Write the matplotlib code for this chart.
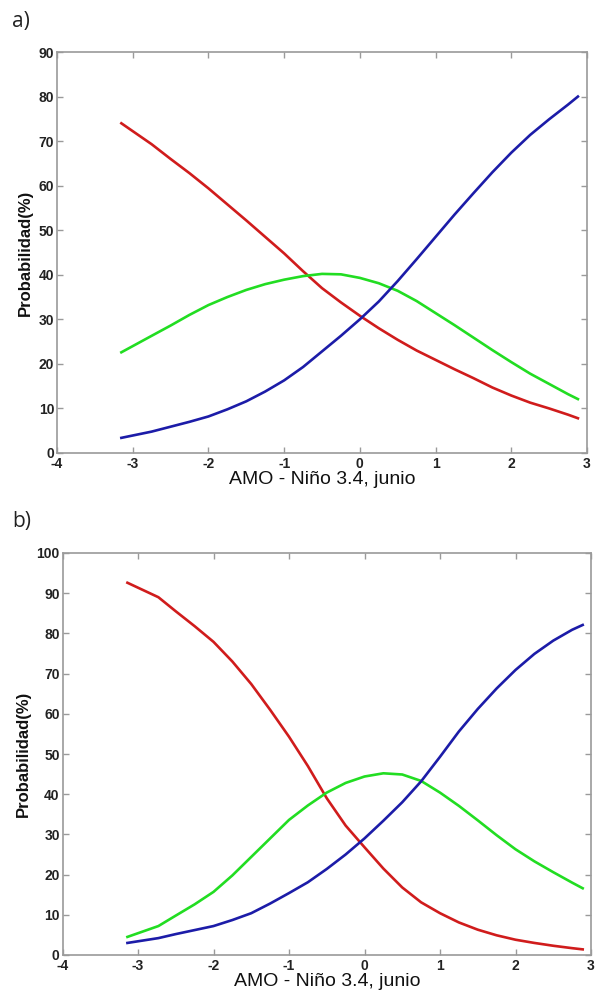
import matplotlib
matplotlib.use("Agg")
import matplotlib.pyplot as plt

# ---- Data (panel a) ----
xa = [-3.15, -2.75, -2.5, -2.25, -2.0, -1.75, -1.5, -1.25, -1.0, -0.75, -0.5, -0.25,
      0.0, 0.25, 0.5, 0.75, 1.0, 1.25, 1.5, 1.75, 2.0, 2.25, 2.5, 2.75, 2.88]
red_a = [74.0, 69.3, 66.0, 62.8, 59.4, 55.8, 52.2, 48.5, 44.8, 40.8, 37.0, 33.8,
         30.8, 28.0, 25.4, 23.0, 20.9, 18.8, 16.8, 14.7, 12.9, 11.3, 10.0, 8.6, 7.8]
green_a = [22.6, 26.3, 28.6, 31.0, 33.2, 35.0, 36.6, 37.9, 38.9, 39.7, 40.2, 40.1,
           39.3, 38.1, 36.4, 34.1, 31.4, 28.7, 25.9, 23.1, 20.4, 17.8, 15.5, 13.2, 12.1]
blue_a = [3.4, 4.8, 5.9, 7.0, 8.2, 9.8, 11.6, 13.8, 16.3, 19.3, 22.8, 26.3,
          30.0, 34.0, 38.6, 43.5, 48.5, 53.5, 58.3, 63.0, 67.4, 71.4, 74.9, 78.2, 80.0]

# ---- Data (panel b) ----
xb = [-3.14, -2.73, -2.5, -2.25, -2.0, -1.75, -1.5, -1.25, -1.0, -0.75, -0.5, -0.25,
      0.0, 0.25, 0.5, 0.75, 1.0, 1.25, 1.5, 1.75, 2.0, 2.25, 2.5, 2.75, 2.89]
red_b = [92.6, 89.0, 85.5, 81.8, 77.9, 73.0, 67.4, 61.0, 54.3, 47.0, 39.0, 32.2,
         26.8, 21.5, 16.8, 13.1, 10.4, 8.1, 6.3, 4.9, 3.8, 3.0, 2.3, 1.7, 1.4]
green_b = [4.5, 7.2, 9.8, 12.6, 15.7, 19.8, 24.4, 29.0, 33.6, 37.2, 40.4, 42.8,
           44.4, 45.2, 44.9, 43.3, 40.4, 37.1, 33.5, 29.8, 26.3, 23.3, 20.6, 18.0, 16.6]
blue_b = [3.0, 4.2, 5.2, 6.2, 7.2, 8.7, 10.4, 12.8, 15.4, 18.1, 21.4, 25.0,
          29.0, 33.4, 38.0, 43.2, 49.3, 55.6, 61.2, 66.3, 70.9, 74.9, 78.2, 80.9, 82.1]

xticks = [-4, -3, -2, -1, 0, 1, 2, 3]
yticks_a = [0, 10, 20, 30, 40, 50, 60, 70, 80, 90]
yticks_b = [0, 10, 20, 30, 40, 50, 60, 70, 80, 90, 100]

RED = "#d01c1c"
GREEN = "#22dd22"
BLUE = "#1c1ca8"
FRAME = "#9a9a9a"
TXT = "#222222"

plt.rcParams["font.family"] = ["Liberation Sans", "DejaVu Sans"]

fig = plt.figure(figsize=(5.96, 9.92), dpi=100)
ax_a = fig.add_axes([57 / 596, 1 - 453 / 992, 530 / 596, 401 / 992])
ax_b = fig.add_axes([62.5 / 596, 1 - 955 / 992, 528.5 / 596, 402 / 992])


def style(ax, yticks, ymax):
    ax.set_xlim(-4, 3)
    ax.set_ylim(0, ymax)
    ax.set_xticks(xticks)
    ax.set_yticks(yticks)
    ax.set_xticklabels([str(t) for t in xticks])
    ax.set_yticklabels([str(t) for t in yticks])
    for s in ax.spines.values():
        s.set_color(FRAME)
        s.set_linewidth(1.2)
    ax.tick_params(direction="in", length=4, width=1, color=FRAME,
                   top=True, right=True, labelsize=10, labelcolor=TXT)
    ax.tick_params(axis="x", pad=3)
    ax.tick_params(axis="y", pad=2)
    for lab in ax.get_xticklabels() + ax.get_yticklabels():
        lab.set_fontweight("bold")
    ax.set_xlabel("AMO - Niño 3.4, junio", fontsize=14, color="#111111", labelpad=0)
    ax.set_ylabel("Probabilidad(%)", fontsize=12, fontweight="bold", color="#111111", labelpad=4)


ax_a.plot(xa, red_a, color=RED, lw=1.9)
ax_a.plot(xa, green_a, color=GREEN, lw=1.9)
ax_a.plot(xa, blue_a, color=BLUE, lw=1.9)
style(ax_a, yticks_a, 90)

ax_b.plot(xb, red_b, color=RED, lw=1.9)
ax_b.plot(xb, green_b, color=GREEN, lw=1.9)
ax_b.plot(xb, blue_b, color=BLUE, lw=1.9)
style(ax_b, yticks_b, 100)

fig.text(12 / 596, 1 - 22 / 992, "a)", fontsize=15, family=["Open Sans", "DejaVu Sans"],
         color="#222222", va="center", ha="left")
fig.text(12 / 596, 1 - 522 / 992, "b)", fontsize=15, family=["Open Sans", "DejaVu Sans"],
         color="#222222", va="center", ha="left")

fig.savefig("out.png", dpi=100)
